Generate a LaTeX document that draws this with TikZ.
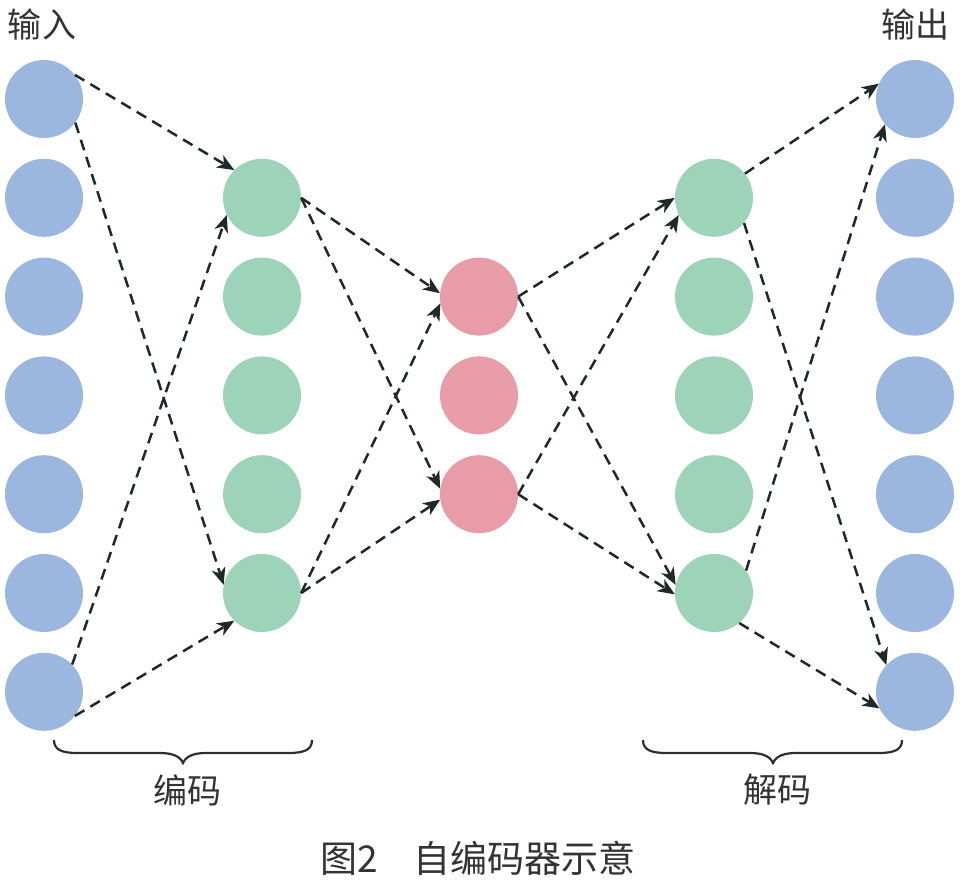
\documentclass[tikz,border=0pt]{standalone}
\usepackage{fontspec}
\newfontfamily\cjk{Noto Sans CJK SC}
\usetikzlibrary{arrows.meta}
\definecolor{inblue}{HTML}{9BB7E0}
\definecolor{midgreen}{HTML}{9CD3B9}
\definecolor{corepink}{HTML}{E89CA8}
\definecolor{linedark}{HTML}{1F2A28}
\definecolor{txtgray}{HTML}{333333}
\tikzset{
  neuron/.style={circle, minimum size=78pt, inner sep=0pt, draw=none},
  inn/.style={neuron, fill=inblue},
  hid/.style={neuron, fill=midgreen},
  core/.style={neuron, fill=corepink},
  conn/.style={draw=linedark, line width=2.5pt, dash pattern=on 11pt off 7pt,
    -{Stealth[length=17pt,width=14pt,inset=5pt]}},
  bracepath/.style={draw=txtgray!90!black, line width=2.2pt},
  lbl/.style={text=txtgray, font=\cjk\fontsize{34pt}{40pt}\selectfont, inner sep=0pt},
  captext/.style={text=txtgray, font=\cjk\fontsize{37pt}{42pt}\selectfont, inner sep=0pt}
}
\begin{document}
\begin{tikzpicture}[x=1pt,y=-1pt]
\useasboundingbox (0,0) rectangle (960,879);
% columns
\foreach \k in {1,...,7}{
  \node[inn] (i\k) at (44, {99+(\k-1)*98.8}) {};
  \node[inn] (o\k) at (915, {99+(\k-1)*98.8}) {};
}
\foreach \k in {1,...,5}{
  \node[hid] (e\k) at (262, {99+\k*98.8}) {};
  \node[hid] (d\k) at (714, {99+\k*98.8}) {};
}
\foreach \k in {1,...,3}{
  \node[core] (m\k) at (479, {99+(\k+1)*98.8}) {};
}
% connectors: input -> encoder
\draw[conn] (i1.38) -- (e1.135);
\draw[conn] (i1.-37) -- (e5.168);
\draw[conn] (i7.44) -- (e1.206);
\draw[conn] (i7.-38) -- (e5.225);
% encoder -> core
\draw[conn] (e1.east) -- (m1.175);
\draw[conn] (e1.east) -- (m3.172);
\draw[conn] (e5.east) -- (m1.190);
\draw[conn] (e5.east) -- (m3.188);
% core -> decoder
\draw[conn] (m1.east) -- (d1.180);
\draw[conn] (m1.east) -- (d5.168);
\draw[conn] (m3.east) -- (d1.206);
\draw[conn] (m3.east) -- (d5.182);
% decoder -> output
\draw[conn] (d1.38) -- (o1.157);
\draw[conn] (d1.-40) -- (o7.137);
\draw[conn] (d5.35) -- (o1.220);
\draw[conn] (d5.-50) -- (o7.205);
% braces
\draw[bracepath] (54,740) .. controls (54,750) and (62,753) .. (78,753)
  -- (160,753) .. controls (172,753) and (180,756) .. (183,763)
  .. controls (186,756) and (194,753) .. (206,753)
  -- (288,753) .. controls (304,753) and (312,750) .. (312,740);
\draw[bracepath] (643,740) .. controls (643,750) and (651,753) .. (667,753)
  -- (750,753) .. controls (762,753) and (770,756) .. (773,763)
  .. controls (776,756) and (784,753) .. (796,753)
  -- (878,753) .. controls (894,753) and (902,750) .. (902,740);
% labels
\node[lbl] (tin) at (42,25) {输入};
\node[lbl] (tout) at (915,25) {输出};
\node[lbl] (tenc) at (187,790) {编码};
\node[lbl] (tdec) at (777,790) {解码};
\node[captext] (tcap) at (478,858) {图2\hspace{36pt}自编码器示意};
\end{tikzpicture}
\end{document}
